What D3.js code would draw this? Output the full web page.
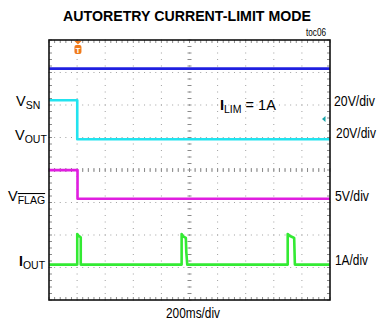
<!DOCTYPE html>
<html>
<head>
<meta charset="utf-8">
<script src="https://cdn.jsdelivr.net/npm/d3@7"></script>
<style>
  body { margin: 0; background: #fff; }
  svg { display: block; font-family: "Liberation Sans", Arial, sans-serif; }
</style>
</head>
<body>
<div id="chart"></div>
<script>
// time base: 200 ms/div, 10 divisions
const timeDomain = [0, 2000];
const divCount = { x: 10, y: 8 };

// channels (scale per div, position of zero in divs from screen centre)
const chNames = ["vin", "vsn", "vflag", "iout"];
const chColors = ["#2020e0", "#22e3ef", "#e01ee0", "#33ea33"];
const chPerDiv = [20, 20, 5, 1];
const chZeroDiv = [1.57, 0.945, -0.883, -2.91];

// traces (time in ms, value in V or A)
const vinT = [0, 2000];
const vinV = [31, 31];
const vsnT = [0, 201, 201, 2000];
const vsnV = [24, 24, 0, 0];
const vflagT = [0, 203, 203, 2000];
const vflagV = [4.4, 4.4, 0, 0];
const ioutT = [0, 201, 201, 207, 222, 226, 226,
  944, 944, 957, 974, 977, 984,
  1699, 1699, 1715, 1735, 1745, 1750, 2000];
const ioutV = [0, 0, 0.94, 0.9, 0.85, 0.84, 0,
  0, 0.94, 0.86, 0.82, 0.4, 0,
  0, 0.94, 0.88, 0.84, 0.82, 0, 0];

const traceT = [vinT, vsnT, vflagT, ioutT];
const traceV = [vinV, vsnV, vflagV, ioutV];

// labels
const title = "AUTORETRY CURRENT-LIMIT MODE";
const figId = "toc06";
const timeLabel = "200ms/div";
const leftLabels = [["V", "SN"], ["V", "OUT"], ["V", "FLAG"], ["I", "OUT"]];
const rightLabels = ["20V/div", "20V/div", "5V/div", "1A/div"];
const note = ["I", "LIM", " = 1A"];
const triggerTime = 206;

const dims = { width: 386, height: 323, left: 49, right: 330, top: 40, bottom: 300 };

const svg = d3.select("#chart").append("svg")
  .attr("width", dims.width).attr("height", dims.height);

const xScale = d3.scaleLinear().domain(timeDomain).range([dims.left, dims.right]);
const yScale = d3.scaleLinear().domain([-divCount.y / 2, divCount.y / 2]).range([dims.bottom, dims.top]);
const xDiv = d3.scaleLinear().domain([0, divCount.x]).range([dims.left, dims.right]);

// grid dots
const grid = svg.append("g").attr("fill", "#a0a0a0");
const minorX = d3.range(0, divCount.x * 5 + 1).map((i) => i / 5);
const minorY = d3.range(-divCount.y * 5 / 2, divCount.y * 5 / 2 + 1).map((i) => i / 5);
d3.range(1, divCount.x).forEach((dx) => {
  grid.selectAll(null).data(minorY).join("rect")
    .attr("x", xDiv(dx) - 0.5).attr("y", (d) => yScale(d) - 0.5)
    .attr("width", 1).attr("height", 1);
});
d3.range(-divCount.y / 2 + 1, divCount.y / 2).forEach((dy) => {
  grid.selectAll(null).data(minorX).join("rect")
    .attr("x", (d) => xDiv(d) - 0.5).attr("y", yScale(dy) - 0.5)
    .attr("width", 1).attr("height", 1);
});

// centre cross ticks and frame ticks
const ticks = svg.append("g").attr("stroke", "#8a8a8a").attr("stroke-width", 1);
ticks.selectAll(null).data(minorX).join("line")
  .attr("x1", (d) => xDiv(d)).attr("x2", (d) => xDiv(d))
  .attr("y1", yScale(0) - 2).attr("y2", yScale(0) + 2);
ticks.selectAll(null).data(minorY).join("line")
  .attr("y1", (d) => yScale(d)).attr("y2", (d) => yScale(d))
  .attr("x1", xDiv(5) - 2).attr("x2", xDiv(5) + 2);
ticks.selectAll(null).data(minorX).join("line")
  .attr("x1", (d) => xDiv(d)).attr("x2", (d) => xDiv(d))
  .attr("y1", dims.top).attr("y2", dims.top + 3);
ticks.selectAll(null).data(minorX).join("line")
  .attr("x1", (d) => xDiv(d)).attr("x2", (d) => xDiv(d))
  .attr("y1", dims.bottom - 3).attr("y2", dims.bottom);
ticks.selectAll(null).data(minorY).join("line")
  .attr("y1", (d) => yScale(d)).attr("y2", (d) => yScale(d))
  .attr("x1", dims.left).attr("x2", dims.left + 3);
ticks.selectAll(null).data(minorY).join("line")
  .attr("y1", (d) => yScale(d)).attr("y2", (d) => yScale(d))
  .attr("x1", dims.right - 3).attr("x2", dims.right);

// traces
chNames.forEach((name, i) => {
  const pts = traceT[i].map((t, j) => [t, traceV[i][j]]);
  const line = d3.line()
    .x((d) => xScale(d[0]))
    .y((d) => yScale(chZeroDiv[i] + d[1] / chPerDiv[i]));
  svg.append("path").datum(pts)
    .attr("class", name)
    .attr("d", line)
    .attr("fill", "none")
    .attr("stroke", chColors[i])
    .attr("stroke-width", 2.6)
    .attr("stroke-linejoin", "round");
});

// frame
svg.append("rect")
  .attr("x", dims.left).attr("y", dims.top)
  .attr("width", dims.right - dims.left).attr("height", dims.bottom - dims.top)
  .attr("fill", "none").attr("stroke", "#111").attr("stroke-width", 1.6);

// trigger marker
const tx = xScale(triggerTime);
const trig = svg.append("g").attr("fill", "#f07a1c");
trig.append("path").attr("d", `M${tx - 3.5},${dims.top + 1}L${tx + 3.5},${dims.top + 1}L${tx},${dims.top + 4.5}Z`);
trig.append("rect").attr("x", tx - 3.5).attr("y", dims.top + 5).attr("width", 7).attr("height", 9).attr("rx", 2);
trig.append("text").attr("x", tx).attr("y", dims.top + 12.5)
  .attr("text-anchor", "middle").attr("fill", "#fff")
  .style("font-size", "8px").style("font-weight", "bold").text("T");

// ground marker (vin channel)
const gy = yScale(chZeroDiv[0]);
svg.append("path")
  .attr("d", `M${dims.right - 8},${gy}L${dims.right - 4.5},${gy - 3}L${dims.right - 4.5},${gy + 3}Z`)
  .attr("fill", "#1aa3a8");

// title + id
svg.append("text").attr("x", 187).attr("y", 20.7)
  .attr("text-anchor", "middle")
  .attr("textLength", 248).attr("lengthAdjust", "spacingAndGlyphs")
  .style("font-size", "15.5px").style("font-weight", "bold").text(title);
svg.append("text").attr("x", 326).attr("y", 35.5)
  .attr("text-anchor", "end")
  .attr("textLength", 20).attr("lengthAdjust", "spacingAndGlyphs")
  .style("font-size", "11px").text(figId);

// left labels
const leftPos = [[16, 105.7, 109], [15, 140, 142.5], [8, 200.7, 204], [19, 266, 269]];
leftLabels.forEach(([main, sub], i) => {
  const [x, yb, ys] = leftPos[i];
  const t = svg.append("text").attr("x", x).attr("y", yb).style("font-size", "14.5px");
  t.append("tspan").text(main).style("font-size", main === "I" ? "14px" : "14.5px")
    .style("font-weight", main === "I" ? "bold" : "normal");
  const s = t.append("tspan").attr("y", ys).style("font-size", "10.5px").text(sub);
  if (sub === "FLAG") s.style("text-decoration", "overline");
});

// right labels
const rightPos = [[334, 105.5, 41], [336, 137.5, 40], [335, 200.5, 34], [335, 265, 33]];
rightLabels.forEach((lab, i) => {
  const [x, y, w] = rightPos[i];
  svg.append("text").attr("x", x).attr("y", y)
    .attr("textLength", w).attr("lengthAdjust", "spacingAndGlyphs")
    .style("font-size", "14px").text(lab);
});

// I_LIM note
const n = svg.append("text").attr("x", 220).attr("y", 109.5).style("font-size", "14.5px");
n.append("tspan").style("font-weight", "bold").text(note[0]);
n.append("tspan").attr("y", 112.5).style("font-size", "10.5px").text(note[1]);
n.append("tspan").attr("y", 109.5).text(note[2]);

// time base
svg.append("text").attr("x", 193).attr("y", 317.5)
  .attr("text-anchor", "middle")
  .attr("textLength", 54).attr("lengthAdjust", "spacingAndGlyphs")
  .style("font-size", "14px").text(timeLabel);
</script>
</body>
</html>
